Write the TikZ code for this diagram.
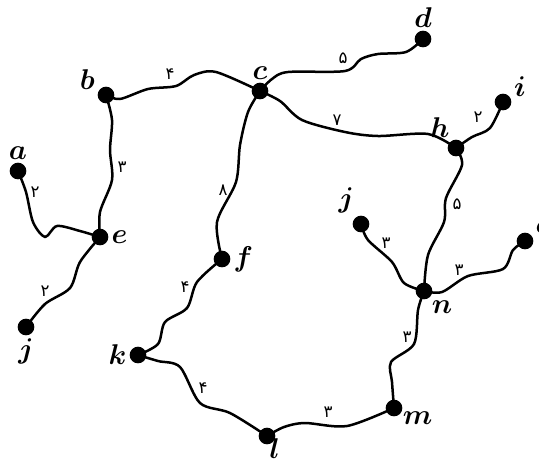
\documentclass[tikz,border=0pt]{standalone}
\usepackage{fontspec}
\usepackage{tikz}
\newfontfamily\persian[Script=Arabic]{DejaVu Sans}

\begin{document}
\begin{tikzpicture}[
  x=0.42pt, y=-0.42pt,
  vert/.style={circle,fill=black,inner sep=0pt,minimum size=7pt},
  lbl/.style={inner sep=1pt,font=\boldmath\fontsize{11.5}{13}\selectfont},
  edge/.style={line width=1.05pt,line join=round},
  wt/.style={font=\persian\scriptsize,inner sep=0pt},
]
\useasboundingbox (0,0) rectangle (539,459);

% ---- vertices
\node[vert,label={[lbl]above:$a$}]     (a)  at (18,171)  {};
\node[vert,label={[lbl]160:$b$}]       (b)  at (106,95)  {};
\node[vert,label={[lbl]above:$c$}]     (c)  at (260,91)  {};
\node[vert,label={[lbl]above:$d$}]     (d)  at (423,39)  {};
\node[vert,label={[lbl]right:$e$}]     (e)  at (100,237) {};
\node[vert,label={[lbl]right:$f$}]     (f)  at (222,259) {};
\node[vert,label={[lbl]115:$h$}]       (h)  at (456,148) {};
\node[vert,label={[lbl]20:$i$}]        (i)  at (503,102) {};
\node[vert,label={[lbl]below:$j$}]     (j1) at (26,327)  {};
\node[vert,label={[lbl]120:$j$}]       (j2) at (361,224) {};
\node[vert,label={[lbl]left:$k$}]      (k)  at (138,355) {};
\node[vert,label={[lbl,inner sep=0pt,label distance=-2.5pt]-40:$l$}] (l) at (267,436) {};
\node[vert,label={[lbl,inner sep=0pt]-20:$m$}] (m) at (394,408) {};
\node[vert,label={[lbl]-55:$n$}]       (n)  at (424,291) {};
\node[vert,label={[lbl]30:$o$}]        (o)  at (525,241) {};

% ---- wavy edges
\draw[edge] plot[smooth] coordinates {(b) (120,99) (148,89) (176,86) (194,75) (216,72) (c)};
\draw[edge] plot[smooth] coordinates {(c) (272,79) (288,72) (345,71) (361,59) (378,54) (406,52) (d)};
\draw[edge] plot[smooth] coordinates {(c) (280,101) (302,120) (345,132) (378,136) (428,134) (h)};
\draw[edge] plot[smooth] coordinates {(h) (472,137) (490,128) (i)};
\draw[edge] plot[smooth] coordinates {(h) (462,165) (446,198) (444,222) (428,255) (n)};
\draw[edge] plot[smooth] coordinates {(j2) (368,240) (392,262) (404,283) (n)};
\draw[edge] plot[smooth] coordinates {(n) (442,292) (468,276) (503,269) (513,250) (o)};
\draw[edge] plot[smooth] coordinates {(n) (418,310) (414,344) (391,362) (392,382) (m)};
\draw[edge] plot[smooth] coordinates {(l) (284,427) (305,423) (347,426) (m)};
\draw[edge] plot[smooth] coordinates {(a) (26,192) (33,222) (45,237) (57,226) (80,231) (e)};
\draw[edge] plot[smooth] coordinates {(b) (112,120) (110,150) (112,180) (100,212) (e)};
\draw[edge] plot[smooth] coordinates {(e) (80,262) (70,288) (45,304) (j1)};
\draw[edge] plot[smooth] coordinates {(c) (248,112) (240,145) (236,182) (217,222) (f)};
\draw[edge] plot[smooth] coordinates {(f) (197,282) (187,308) (165,322) (158,344) (k)};
\draw[edge] plot[smooth] coordinates {(k) (158,361) (180,367) (200,403) (230,413) (l)};

% ---- weights
\node[wt] (wbc) at (170,74)  {۴};
\node[wt] (wbe) at (122,167) {۳};
\node[wt] (wae) at (35,192)  {۲};
\node[wt] (wcf) at (223,190) {۸};
\node[wt] (wcd) at (343,58)  {۵};
\node[wt] (wch) at (337,120) {۷};
\node[wt] (whi) at (478,117) {۲};
\node[wt] (whn) at (457,204) {۵};
\node[wt] (wjn) at (386,243) {۳};
\node[wt] (wno) at (459,270) {۳};
\node[wt] (wnm) at (407,337) {۳};
\node[wt] (wlm) at (328,412) {۳};
\node[wt] (wej) at (45,291)  {۲};
\node[wt] (wfk) at (185,287) {۴};
\node[wt] (wkl) at (203,388) {۴};
\end{tikzpicture}
\end{document}
